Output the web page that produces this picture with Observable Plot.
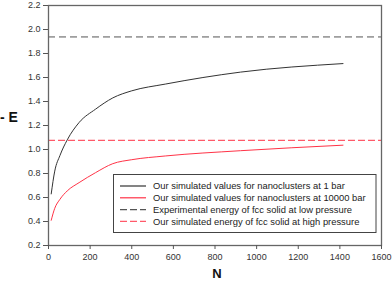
<!DOCTYPE html>
<html><head><meta charset="utf-8">
<script src="https://cdn.jsdelivr.net/npm/d3@7"></script>
<script src="https://cdn.jsdelivr.net/npm/@observablehq/plot@0.6"></script>
<style>
body{margin:0;background:#fff;}
#chart{width:392px;height:281px;}
svg{font-family:"Liberation Sans",Arial,sans-serif;}
</style></head>
<body><div id="chart"></div>
<script>
// Data
const nValues = [13, 30, 55, 90, 147, 226, 309, 400, 561, 923, 1415];
const energy1bar = [0.63, 0.82, 0.95, 1.08, 1.225, 1.336, 1.43, 1.489, 1.545, 1.645, 1.716];
const energy10000bar = [0.41, 0.51, 0.585, 0.655, 0.724, 0.807, 0.882, 0.915, 0.946, 0.99, 1.036];
const expFccLow = 1.938;
const simFccHigh = 1.076;
const xTicks = [0, 200, 400, 600, 800, 1000, 1200, 1400, 1600];
const yTicks = [0.2, 0.4, 0.6, 0.8, 1.0, 1.2, 1.4, 1.6, 1.8, 2.0, 2.2];
const legendLabels = [
  "Our simulated values for nanoclusters at 1 bar",
  "Our simulated values for nanoclusters at 10000 bar",
  "Experimental energy of fcc solid at low pressure",
  "Our simulated energy of fcc solid at high pressure"
];

const black = "#333333", red = "#ff3347", grayDash = "#555555", redDash = "#ff5a6a";
const s1 = nValues.map((n, i) => ({N: n, E: energy1bar[i]}));
const s2 = nValues.map((n, i) => ({N: n, E: energy10000bar[i]}));

const plot = Plot.plot({
  width: 392, height: 281,
  marginLeft: 48, marginRight: 11, marginTop: 5, marginBottom: 36,
  style: {fontFamily: '"Liberation Sans", Arial, sans-serif', fontSize: "9px", color: "#333", overflow: "visible"},
  x: {domain: [0, 1600]},
  y: {domain: [0.2, 2.2]},
  marks: [
    Plot.ruleY([expFccLow], {stroke: grayDash, strokeWidth: 1, strokeDasharray: "7,4"}),
    Plot.ruleY([simFccHigh], {stroke: redDash, strokeWidth: 1.2, strokeDasharray: "7,3"}),
    Plot.line(s1, {x: "N", y: "E", stroke: black, strokeWidth: 1, curve: "monotone-x"}),
    Plot.line(s2, {x: "N", y: "E", stroke: red, strokeWidth: 1, curve: "monotone-x"}),
    Plot.frame({stroke: "#666", strokeWidth: 1.3}),
    Plot.axisX(xTicks, {tickSize: 4, tickPadding: 4, label: null, tickFormat: d => String(d), stroke: "#555", fill: "#333"}),
    Plot.axisY(yTicks, {tickSize: 5, tickPadding: 3, label: null, tickFormat: d => d.toFixed(1), stroke: "#555", fill: "#333"})
  ]
});
document.getElementById("chart").appendChild(plot);

const svg = d3.select(plot);
// Axis titles
svg.append("text").attr("x", 217).attr("y", 278).attr("text-anchor", "middle")
  .attr("font-weight", "bold").attr("font-size", 13).attr("fill", "#111").text("N");
svg.append("text").attr("x", 0).attr("y", 122).attr("text-anchor", "start")
  .attr("font-weight", "bold").attr("font-size", 14).attr("fill", "#111").text("- E");

// Legend
const lg = svg.append("g").attr("text-anchor", "start");
lg.append("rect").attr("x", 113.5).attr("y", 174.5).attr("width", 262.5).attr("height", 58)
  .attr("fill", "#fff").attr("stroke", "#444").attr("stroke-width", 1);
const styles = [
  {stroke: black, dash: "none"},
  {stroke: red, dash: "none"},
  {stroke: grayDash, dash: "7,3"},
  {stroke: redDash, dash: "7,3"}
];
legendLabels.forEach((t, i) => {
  const y = 186 + i * 11.8;
  lg.append("line").attr("x1", 120).attr("x2", 146).attr("y1", y).attr("y2", y)
    .style("stroke", styles[i].stroke).style("stroke-width", "1.2px")
    .style("stroke-dasharray", styles[i].dash);
  lg.append("text").attr("x", 153).attr("y", y + 3.3).attr("text-anchor", "start")
    .attr("font-size", 9.4).attr("fill", "#222").text(t);
});
</script></body></html>
